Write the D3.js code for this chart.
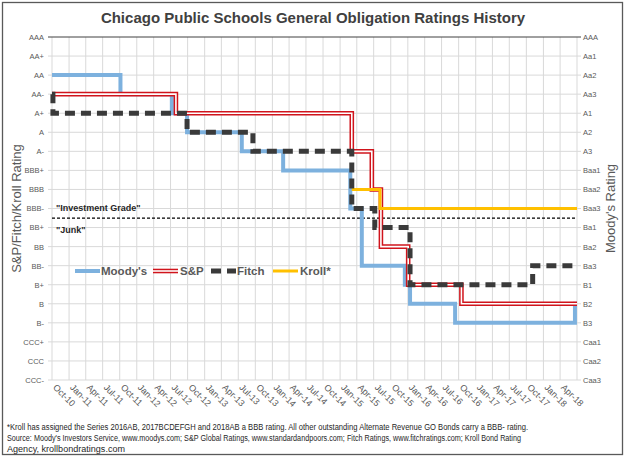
<!DOCTYPE html>
<html><head><meta charset="utf-8">
<script src="https://cdn.jsdelivr.net/npm/d3@7"></script>
<style>body{margin:0;background:#fff}svg{display:block}text{font-family:"Liberation Sans",Arial,sans-serif}</style>
</head><body><svg id="c" width="626" height="459"></svg>
<script>
const spLevels = ["AAA","AA+","AA","AA-","A+","A","A-","BBB+","BBB","BBB-","BB+","BB","BB-","B+","B","B-","CCC+","CCC","CCC-"];
const moodysLevels = ["AAA","Aa1","Aa2","Aa3","A1","A2","A3","Baa1","Baa2","Baa3","Ba1","Ba2","Ba3","B1","B2","B3","Caa1","Caa2","Caa3"];

const moodysDates = ["2010-10-01","2011-10-05","2012-07-08","2012-09-28","2013-07-20","2014-02-28","2015-02-25","2015-04-28","2015-12-16","2016-01-13","2016-09-12","2018-06-20"];
const moodysRatings = ["Aa2","Aa3","A1","A2","A3","Baa1","Baa3","Ba3","B1","B2","B3","B2"];

const spDates = ["2010-10-01","2012-07-30","2015-03-05","2015-06-21","2015-08-09","2016-01-03","2016-10-16"];
const spRatings = ["AA-","A+","A-","BBB","BB","B+","B"];

const fitchDates = ["2010-10-01","2010-10-06","2012-09-28","2013-09-18","2015-03-05","2015-07-07","2016-01-13","2017-11-04"];
const fitchRatings = ["AA-","A+","A","A-","BBB-","BB+","B+","BB-"];

const krollDates = ["2015-03-05","2015-08-04"];
const krollRatings = ["BBB","BBB-"];

const xStart = "2010-10-01", xEnd = "2018-07-01";
const tickFormat = "%b-%y";

const footnotes = [
 "*Kroll has assigned the Series 2016AB, 2017BCDEFGH and 2018AB a BBB rating. All other outstanding Alternate Revenue GO Bonds carry a BBB- rating.",
 "Source: Moody's Investors Service, www.moodys.com; S&P Global Ratings, www.standardandpoors.com; Fitch Ratings, www.fitchratings.com; Kroll Bond Rating",
 "Agency,  krollbondratings.com"
];

const svg = d3.select("#c");
const L = 52, R = 577, T = 37, B = 380;
const parse = d3.timeParse("%Y-%m-%d");
const x = d3.scaleTime().domain([parse(xStart), parse(xEnd)]).range([L, R]);
const yL = d3.scalePoint().domain(spLevels).range([T, B]);
const yR = d3.scalePoint().domain(moodysLevels).range([T, B]);

// outer frame
svg.append("rect").attr("x",2.5).attr("y",2.5).attr("width",620).attr("height",452)
  .attr("fill","none").attr("stroke","#595959").attr("stroke-width",1.3);

// gridlines
const quarters = d3.timeMonth.every(3).range(parse(xStart), d3.timeDay.offset(parse(xEnd),1));
svg.append("g").selectAll("line").data(quarters).join("line")
  .attr("x1",d=>x(d)).attr("x2",d=>x(d)).attr("y1",T).attr("y2",B)
  .attr("stroke","#d9d9d9").attr("stroke-width",1);
svg.append("g").selectAll("line").data(spLevels).join("line")
  .attr("x1",L-4).attr("x2",R+4).attr("y1",d=>yL(d)).attr("y2",d=>yL(d))
  .attr("stroke",(d,i)=>i===0?"#404040":"#d9d9d9").attr("stroke-width",1);

// axes labels
const gl = svg.append("g").attr("transform",`translate(${L},0)`)
  .call(d3.axisLeft(yL).tickSize(0).tickPadding(8));
gl.select(".domain").remove();
gl.selectAll("text").attr("font-size",7.5).attr("fill","#595959");
const gr = svg.append("g").attr("transform",`translate(${R},0)`)
  .call(d3.axisRight(yR).tickSize(0).tickPadding(6));
gr.select(".domain").remove();
gr.selectAll("text").attr("font-size",7.5).attr("fill","#595959");

const labelTicks = quarters.filter(d=>d < d3.timeMonth.offset(parse(xEnd),-1));
const gx = svg.append("g").attr("transform",`translate(0,${B})`)
  .call(d3.axisBottom(x).tickValues(labelTicks).tickFormat(d3.timeFormat(tickFormat)).tickSize(0));
gx.select(".domain").remove();
gx.selectAll("text").attr("font-size",9).attr("fill","#595959")
  .attr("text-anchor","start").attr("dy",0).attr("y",0)
  .attr("transform","translate(0,8) rotate(45)");

// titles
svg.append("text").attr("x",313).attr("y",23).attr("text-anchor","middle")
  .attr("font-size",15).attr("font-weight","bold").attr("fill","#404040")
  .text("Chicago Public Schools General Obligation Ratings History");
svg.append("text").attr("transform",`translate(21,${(T+B)/2}) rotate(-90)`).attr("text-anchor","middle")
  .attr("font-size",13).attr("fill","#595959").text("S&P/Fitch/Kroll Rating");
svg.append("text").attr("transform",`translate(615,${(T+B)/2}) rotate(-90)`).attr("text-anchor","middle")
  .attr("font-size",13).attr("fill","#595959").text("Moody's Rating");

// investment grade line
const igY = (yL("BBB-")+yL("BB+"))/2;
svg.append("line").attr("x1",L).attr("x2",R).attr("y1",igY).attr("y2",igY)
  .attr("stroke","#000").attr("stroke-width",1.3).attr("stroke-dasharray","3,2");
svg.append("text").attr("x",56).attr("y",igY-7).attr("font-size",9).attr("font-weight","bold").attr("fill","#262626").text('"Investment Grade"');
svg.append("text").attr("x",56).attr("y",igY+15).attr("font-size",9).attr("font-weight","bold").attr("fill","#262626").text('"Junk"');

function series(dates, ratings, ys){
  const pts = dates.map((d,i)=>({d:parse(d), v:ratings[i]}));
  pts.push({d:parse(xEnd), v:ratings[ratings.length-1]});
  return d3.line().x(p=>x(p.d)).y(p=>ys(p.v)).curve(d3.curveStepAfter)(pts);
}
const g = svg.append("g");
g.append("path").attr("d",series(moodysDates,moodysRatings,yR)).attr("fill","none").attr("stroke","#7DB1DE").attr("stroke-width",4);
g.append("path").attr("d",series(spDates,spRatings,yL)).attr("fill","none").attr("stroke","#D0141C").attr("stroke-width",4.6);
g.append("path").attr("d",series(spDates,spRatings,yL)).attr("fill","none").attr("stroke","#fff").attr("stroke-width",1.6);
g.append("path").attr("d",series(krollDates,krollRatings,yL)).attr("fill","none").attr("stroke","#FFC000").attr("stroke-width",3);
g.append("path").attr("d",series(fitchDates,fitchRatings,yL)).attr("fill","none").attr("stroke","#3a3a3a").attr("stroke-width",5).attr("stroke-dasharray","10,6");

// legend
const legY = 271;
const leg = ["Moody's","S&P","Fitch","Kroll*"];
const lg = svg.append("g");
lg.append("line").attr("x1",75).attr("x2",100).attr("y1",legY).attr("y2",legY).attr("stroke","#7DB1DE").attr("stroke-width",4);
lg.append("line").attr("x1",153).attr("x2",178).attr("y1",legY).attr("y2",legY).attr("stroke","#D0141C").attr("stroke-width",4.6);
lg.append("line").attr("x1",153).attr("x2",178).attr("y1",legY).attr("y2",legY).attr("stroke","#fff").attr("stroke-width",1.6);
lg.append("line").attr("x1",211).attr("x2",236).attr("y1",legY).attr("y2",legY).attr("stroke","#3a3a3a").attr("stroke-width",5).attr("stroke-dasharray","10,6");
lg.append("line").attr("x1",273).attr("x2",298).attr("y1",legY).attr("y2",legY).attr("stroke","#FFC000").attr("stroke-width",3);
lg.selectAll("text").data(leg).join("text").attr("x",(d,i)=>[101,180,237,300][i]).attr("y",legY+4)
  .attr("font-size",11.5).attr("font-weight","bold").attr("fill","#595959").text(d=>d);

// footnotes
const fnW = [521, 514, 118];
svg.append("g").selectAll("text").data(footnotes).join("text")
  .attr("x",7).attr("y",(d,i)=>430+i*11).attr("font-size",8.5).attr("fill","#262626")
  .attr("textLength",(d,i)=>fnW[i]).attr("lengthAdjust","spacingAndGlyphs").text(d=>d);
</script></body></html>
